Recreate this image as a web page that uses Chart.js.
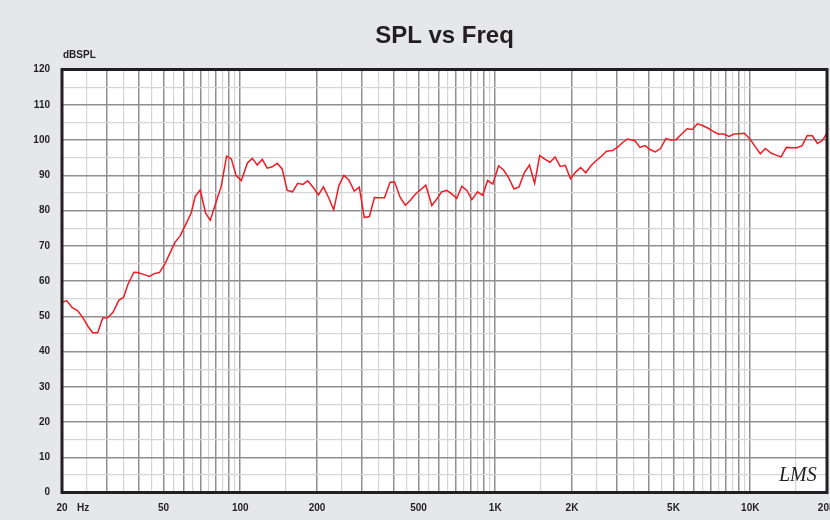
<!DOCTYPE html>
<html>
<head>
<meta charset="utf-8">
<script src="https://cdn.jsdelivr.net/npm/chart.js@4.4.0/dist/chart.umd.min.js"></script>
<style>
    html, body { margin: 0; padding: 0; background: #e6e7e8; }
    #wrap { width: 830px; height: 520px; }
</style>
</head>
<body>
<div id="wrap"><canvas id="splChart" width="830" height="520"></canvas></div>
<script>
// 周波数特性データ
const freqs = [
    20, 20.9, 21.9, 23.0, 24.0, 25.3, 26.4, 27.6, 28.9, 30.2,
    31.7, 33.4, 34.9, 36.3, 38.3, 39.6, 42.0, 44.1, 46.0, 48.2,
    50.6, 53.0, 55.4, 58.1, 61.3, 64.2, 66.6, 69.7, 73.1, 76.3,
    80.2, 84.1, 88.4, 92.3, 96.4, 101, 106.7, 111.5, 116.6, 122,
    127.6, 133.5, 139.6, 146, 152.8, 160.4, 168, 176, 184, 193,
    202.6, 212, 222, 232.5, 243.6, 255, 267, 280, 293, 306.5,
    321, 336, 351, 368, 387, 403, 424, 444, 465, 487,
    510, 534, 564, 588, 616, 645, 675, 706, 740, 775,
    810, 852, 892, 934, 978, 1031, 1080, 1131, 1184, 1240,
    1300, 1362, 1427, 1494, 1564, 1639, 1716, 1798, 1882, 1973,
    2066, 2163, 2265, 2372, 2491, 2608, 2731, 2883, 3019, 3161,
    3310, 3531, 3696, 3870, 4050, 4240, 4440, 4670, 4890, 5120,
    5380, 5660, 5930, 6210, 6500, 6810, 7130, 7470, 7860, 8260,
    8640, 9050, 9480, 9930, 10400, 10950, 11460, 12060, 12620, 13210,
    13860, 14580, 15260, 15980, 16730, 17520, 18340, 19210, 20000
];
const spl = [
    54.0, 54.4, 52.5, 51.6, 49.9, 47.1, 45.3, 45.3, 49.5, 49.6,
    51.1, 54.5, 55.4, 59.1, 62.5, 62.4, 61.8, 61.3, 62.1, 62.4,
    64.8, 67.9, 70.9, 72.8, 76.2, 79.3, 84.0, 85.8, 79.3, 77.2,
    82.1, 86.7, 95.4, 94.6, 89.9, 88.5, 93.5, 94.8, 92.9, 94.5,
    92.0, 92.4, 93.4, 91.8, 85.7, 85.3, 87.7, 87.4, 88.4, 86.6,
    84.4, 86.7, 83.7, 80.2, 87.0, 90.0, 88.6, 85.5, 86.6, 78.0,
    78.3, 83.7, 83.6, 83.6, 88.0, 88.1, 83.7, 81.5, 82.9, 84.7,
    85.9, 87.2, 81.4, 83.1, 85.3, 85.7, 84.7, 83.4, 86.9, 85.6,
    83.1, 85.3, 84.3, 88.5, 87.5, 92.7, 91.4, 89.2, 86.1, 86.7,
    90.7, 92.9, 87.7, 95.6, 94.6, 93.7, 95.2, 92.5, 92.8, 89.0,
    90.9, 92.2, 90.7, 92.7, 94.2, 95.4, 96.8, 97.0, 98.0, 99.3,
    100.3, 99.8, 97.9, 98.4, 97.3, 96.6, 97.5, 100.4, 100.0, 100.1,
    101.7, 103.2, 103.0, 104.6, 104.1, 103.4, 102.5, 101.7, 101.7, 101.0,
    101.7, 101.8, 101.9, 100.4, 98.4, 96.1, 97.6, 96.3, 95.7, 95.2,
    97.9, 97.8, 97.8, 98.4, 101.3, 101.2, 99.0, 99.9, 102.0
];

// 軸ラベル
const xTickValues = [20, 50, 100, 200, 500, 1000, 2000, 5000, 10000, 20000];
const xTickLabels = ['20', '50', '100', '200', '500', '1K', '2K', '5K', '10K', '20K'];

const BG = '#e6e7e8';
const GRID_DARK = '#8f8f8f';
const GRID_LIGHT = '#d5d5d5';
const TEXT = '#231f20';

// 対数グリッド: 各ディケードで整数倍は濃い線、半分は薄い線
function buildLogGrid(min, max) {
    const out = [];
    for (let b = 10; b <= 10000; b *= 10) {
        for (let k = 2; k <= 20; k++) {
            const v = b * k / 2;
            if (v >= min && v <= max && !out.includes(v)) out.push(v);
        }
    }
    return out.sort((a, b) => a - b);
}

function isMajorFreq(v) {
    const b = Math.pow(10, Math.floor(Math.log10(v) + 1e-9));
    return Math.abs(v / b - Math.round(v / b)) < 1e-6;
}

const backgroundPlugin = {
    id: 'bg',
    beforeDraw(chart) {
        const { ctx, chartArea: a } = chart;
        ctx.save();
        ctx.fillStyle = BG;
        ctx.fillRect(0, 0, chart.width, chart.height);
        ctx.fillStyle = '#ffffff';
        ctx.fillRect(a.left, a.top, a.right - a.left, a.bottom - a.top);
        ctx.restore();
    }
};

const framePlugin = {
    id: 'frame',
    afterDraw(chart) {
        const { ctx, chartArea: a } = chart;
        ctx.save();
        ctx.strokeStyle = TEXT;
        ctx.lineWidth = 3;
        ctx.strokeRect(a.left, a.top, a.right - a.left, a.bottom - a.top);

        ctx.fillStyle = TEXT;
        ctx.font = 'bold 10px "Liberation Sans", Arial, sans-serif';
        ctx.textBaseline = 'middle';
        ctx.textAlign = 'left';
        ctx.fillText('dBSPL', a.left + 1, 55.5);
        ctx.fillText('Hz', 77, 508.5);

        ctx.font = 'italic 20px "Liberation Serif", serif';
        ctx.fillText('LMS', 779, 476);
        ctx.restore();
    }
};

const chart = new Chart(document.getElementById('splChart'), {
    type: 'line',
    data: {
        datasets: [{
            data: freqs.map((f, i) => ({ x: f, y: spl[i] })),
            borderColor: '#ee1c25',
            borderWidth: 1.5,
            pointRadius: 0,
            tension: 0,
            fill: false
        }]
    },
    options: {
        responsive: false,
        animation: false,
        layout: { padding: { left: 0, right: 3, top: 0, bottom: 0 } },
        plugins: {
            legend: { display: false },
            tooltip: { enabled: false },
            title: {
                display: true,
                text: 'SPL vs Freq',
                fullSize: false,
                color: TEXT,
                font: { family: '"Liberation Sans", Arial, sans-serif', size: 24, weight: 'bold', lineHeight: 1.2 },
                padding: { top: 22, bottom: 18.7 }
            }
        },
        scales: {
            x: {
                type: 'logarithmic',
                min: 20,
                max: 20000,
                border: { display: false },
                afterBuildTicks: (s) => {
                    s.ticks = buildLogGrid(20, 20000).map(v => ({ value: v }));
                },
                afterFit: (s) => {
                    s.height = 27.5;
                    s.paddingLeft = 0;
                    s.paddingRight = 0;
                },
                grid: {
                    drawTicks: false,
                    color: (c) => isMajorFreq(c.tick.value) ? GRID_DARK : GRID_LIGHT,
                    lineWidth: (c) => isMajorFreq(c.tick.value) ? 1.5 : 1.2
                },
                ticks: {
                    autoSkip: false,
                    maxRotation: 0,
                    padding: 10,
                    color: TEXT,
                    font: { family: '"Liberation Sans", Arial, sans-serif', size: 10, weight: 'bold' },
                    callback: (v) => {
                        const i = xTickValues.indexOf(v);
                        return i >= 0 ? xTickLabels[i] : '';
                    }
                }
            },
            y: {
                min: 0,
                max: 120,
                border: { display: false },
                afterFit: (s) => { s.width = 62; },
                grid: {
                    drawTicks: false,
                    color: (c) => c.tick.value % 10 === 0 ? GRID_DARK : GRID_LIGHT,
                    lineWidth: (c) => c.tick.value % 10 === 0 ? 1.5 : 1.2
                },
                ticks: {
                    stepSize: 5,
                    padding: 12,
                    color: TEXT,
                    font: { family: '"Liberation Sans", Arial, sans-serif', size: 10, weight: 'bold' },
                    callback: (v) => v % 10 === 0 ? String(v) : ''
                }
            }
        }
    },
    plugins: [backgroundPlugin, framePlugin]
});
</script>
</body>
</html>
